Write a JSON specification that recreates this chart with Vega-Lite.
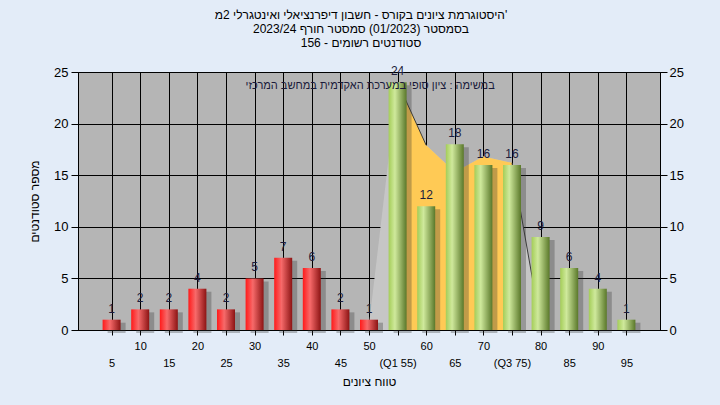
{
  "$schema": "https://vega.github.io/schema/vega-lite/v6.json",
  "width": 582,
  "height": 258,
  "autosize": {"type": "none"},
  "padding": {"left": 78, "top": 72, "right": 60, "bottom": 75},
  "background": "#e3ecf8",
  "config": {
    "font": "Liberation Sans",
    "view": {"stroke": "#000000", "strokeWidth": 1, "fill": "#b5b5b5"},
    "axis": {"labelOverlap": false}
  },
  "title": {
    "text": [
      "היסטוגרמת ציונים בקורס - חשבון דיפרנציאלי ואינטגרלי 2מ'",
      "בסמסטר  (01/2023)  סמסטר חורף 2023/24",
      "סטודנטים רשומים - 156"
    ],
    "fontSize": 12,
    "fontWeight": "normal",
    "color": "#000000",
    "lineHeight": 14,
    "anchor": "middle",
    "frame": "group",
    "offset": 15,
    "dx": -8
  },
  "datasets": {
    "bars": [
      {"score": 5, "count": 1, "group": "fail"},
      {"score": 10, "count": 2, "group": "fail"},
      {"score": 15, "count": 2, "group": "fail"},
      {"score": 20, "count": 4, "group": "fail"},
      {"score": 25, "count": 2, "group": "fail"},
      {"score": 30, "count": 5, "group": "fail"},
      {"score": 35, "count": 7, "group": "fail"},
      {"score": 40, "count": 6, "group": "fail"},
      {"score": 45, "count": 2, "group": "fail"},
      {"score": 50, "count": 1, "group": "fail"},
      {"score": 55, "count": 24, "group": "pass"},
      {"score": 60, "count": 12, "group": "pass"},
      {"score": 65, "count": 18, "group": "pass"},
      {"score": 70, "count": 16, "group": "pass"},
      {"score": 75, "count": 16, "group": "pass"},
      {"score": 80, "count": 9, "group": "pass"},
      {"score": 85, "count": 6, "group": "pass"},
      {"score": 90, "count": 4, "group": "pass"},
      {"score": 95, "count": 1, "group": "pass"}
    ],
    "curve": [
      {"score": 50, "v": 0.5},
      {"score": 55, "v": 24},
      {"score": 60, "v": 17.9},
      {"score": 65, "v": 15.3},
      {"score": 70, "v": 16.8},
      {"score": 75, "v": 16.2},
      {"score": 80, "v": 0.5}
    ],
    "edges": [
      {"score": 55, "v": 24, "seg": "a"},
      {"score": 60, "v": 17.9, "seg": "a"},
      {"score": 75, "v": 16.2, "seg": "b"},
      {"score": 80, "v": 0.5, "seg": "b"}
    ]
  },
  "layer": [
    {
      "data": {"name": "curve"},
      "mark": {"type": "area", "color": "#c6c6c6"},
      "encoding": {
        "x": {
          "field": "score",
          "type": "quantitative",
          "scale": {"domain": [0, 100], "nice": false, "zero": false},
          "axis": {
            "orient": "bottom",
            "values": [10, 20, 30, 40, 50, 60, 70, 80, 90],
            "grid": true,
            "gridColor": "#000000",
            "gridOpacity": 1,
            "domainColor": "#000000",
            "tickColor": "#000000",
            "tickSize": 5,
            "labelFontSize": 11,
            "labelColor": "#000000",
            "labelPadding": 5,
            "labelOverlap": false,
            "labelBound": false,
            "labelFlush": false,
            "title": null
          }
        },
        "y": {
          "field": "v",
          "type": "quantitative",
          "scale": {"domain": [0, 25], "nice": false},
          "axis": {
            "values": [0, 5, 10, 15, 20, 25],
            "grid": true,
            "gridColor": "#000000",
            "gridOpacity": 1,
            "domainColor": "#000000",
            "tickColor": "#000000",
            "tickSize": 7,
            "labelFontSize": 13,
            "labelColor": "#000000",
            "labelPadding": 3,
            "title": "מספר סטודנטים",
            "titleFontSize": 12,
            "titleFontWeight": "normal",
            "titleColor": "#000000",
            "titlePadding": 12
          }
        }
      }
    },
    {
      "data": {"name": "curve"},
      "transform": [{"filter": "datum.score >= 55 && datum.score <= 75"}],
      "mark": {"type": "area", "color": "#ffca55"},
      "encoding": {
        "x": {
          "field": "score",
          "type": "quantitative",
          "axis": {
            "orient": "bottom",
            "values": [5, 15, 25, 35, 45, 55, 65, 75, 85, 95],
            "grid": true,
            "gridColor": "#000000",
            "gridOpacity": 1,
            "domainColor": "#000000",
            "tickColor": "#000000",
            "tickSize": 5,
            "labelFontSize": 11,
            "labelColor": "#000000",
            "labelPadding": 22,
            "labelOverlap": false,
            "labelBound": false,
            "labelFlush": false,
            "labelExpr": "datum.value == 55 ? '(Q1 55)' : datum.value == 75 ? '(Q3 75)' : datum.label",
            "title": "טווח ציונים",
            "titleFontSize": 12,
            "titleFontWeight": "normal",
            "titleColor": "#000000",
            "titlePadding": 8
          }
        },
        "y": {"field": "v", "type": "quantitative", "axis": null}
      }
    },
    {
      "data": {"name": "edges"},
      "mark": {"type": "line", "color": "#3c3c3c", "strokeWidth": 1},
      "encoding": {
        "x": {"field": "score", "type": "quantitative", "axis": null},
        "y": {"field": "v", "type": "quantitative", "axis": null},
        "detail": {"field": "seg"}
      }
    },
    {
      "data": {"name": "bars"},
      "mark": {"type": "bar", "size": 18, "xOffset": 5, "yOffset": 3, "color": "#303030", "opacity": 0.3},
      "encoding": {
        "x": {"field": "score", "type": "quantitative", "axis": null},
        "y": {"field": "count", "type": "quantitative", "axis": null}
      }
    },
    {
      "data": {"name": "bars"},
      "transform": [{"filter": "datum.group == 'fail'"}],
      "mark": {
        "type": "bar",
        "size": 18,
        "color": {
          "gradient": "linear",
          "x1": 0, "y1": 0, "x2": 1, "y2": 0,
          "stops": [
            {"offset": 0, "color": "#ff1a1a"},
            {"offset": 0.4, "color": "#f76a6a"},
            {"offset": 1, "color": "#8c1414"}
          ]
        }
      },
      "encoding": {
        "x": {"field": "score", "type": "quantitative", "axis": null},
        "y": {
          "field": "count",
          "type": "quantitative",
          "axis": {
            "orient": "right",
            "values": [0, 5, 10, 15, 20, 25],
            "grid": false,
            "domainColor": "#000000",
            "tickColor": "#000000",
            "tickSize": 7,
            "labelFontSize": 13,
            "labelColor": "#000000",
            "labelPadding": 2,
            "title": null
          }
        }
      }
    },
    {
      "data": {"name": "bars"},
      "transform": [{"filter": "datum.group == 'pass'"}],
      "mark": {
        "type": "bar",
        "size": 18,
        "color": {
          "gradient": "linear",
          "x1": 0, "y1": 0, "x2": 1, "y2": 0,
          "stops": [
            {"offset": 0, "color": "#a4cd58"},
            {"offset": 0.35, "color": "#cfe99c"},
            {"offset": 1, "color": "#5a782a"}
          ]
        }
      },
      "encoding": {
        "x": {"field": "score", "type": "quantitative", "axis": null},
        "y": {"field": "count", "type": "quantitative", "axis": null}
      }
    },
    {
      "data": {"name": "bars"},
      "mark": {"type": "text", "fontSize": 12, "baseline": "alphabetic", "dy": -7, "color": "#1c1c3c"},
      "encoding": {
        "x": {"field": "score", "type": "quantitative", "axis": null},
        "y": {"field": "count", "type": "quantitative", "axis": null},
        "text": {"field": "count", "type": "quantitative"}
      }
    },
    {
      "data": {"values": [{}]},
      "mark": {"type": "text", "text": "במשימה : ציון סופי במערכת האקדמית במחשב המרכזי", "fontSize": 11, "color": "#1a1a3a", "baseline": "middle"},
      "encoding": {
        "x": {"datum": 50.2, "type": "quantitative", "axis": null},
        "y": {"datum": 23.6, "type": "quantitative", "axis": null}
      }
    }
  ],
  "resolve": {"axis": {"x": "independent", "y": "independent"}}
}
